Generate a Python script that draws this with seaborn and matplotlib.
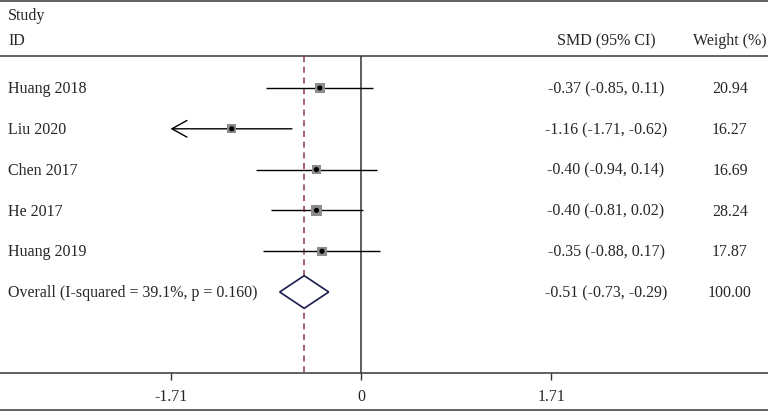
import numpy as np
import pandas as pd
import seaborn as sns
import matplotlib.pyplot as plt
from matplotlib.patches import Polygon
import matplotlib.transforms as mtransforms

studies = ['Huang 2018', 'Liu 2020', 'Chen 2017', 'He 2017', 'Huang 2019']
smd = [-0.37, -1.16, -0.40, -0.40, -0.35]
ci_low = [-0.85, -1.71, -0.94, -0.81, -0.88]
ci_high = [0.11, -0.62, 0.14, 0.02, 0.17]
weights = [20.94, 16.27, 16.69, 28.24, 17.87]

overall_label = 'Overall (I-squared = 39.1%, p = 0.160)'
overall = [-0.51, -0.73, -0.29]
overall_weight = 100.00

tick_values = [-1.71, 0, 1.71]
x_clip = 1.71


def main():
    sns.set_theme(style='white')
    plt.rcParams['font.family'] = ['Liberation Serif', 'DejaVu Serif']
    fs = 11.5

    fig = plt.figure(figsize=(7.68, 4.12), dpi=100)
    ax = fig.add_axes([0, 0, 1, 1])
    # pixel mapping: 0 at x=361, 111.4 px per unit ; rows 40.8 px apart from y=88
    px_unit = 111.4
    x0 = 361
    ax.set_xlim(-x0 / px_unit, (768 - x0) / px_unit)
    row0, dy = 88, 40.8
    ax.set_ylim((412 - row0) / dy, -row0 / dy)
    ax.axis('off')

    def ypix(p):
        return (p - row0) / dy

    rows = np.arange(len(studies))
    df = pd.DataFrame({'study': studies, 'smd': smd, 'lo': ci_low, 'hi': ci_high,
                       'weight': weights, 'row': rows})

    # frame lines
    line_col = '#555555'
    for p in [1, 56, 373, 410]:
        ax.axhline(ypix(p), color=line_col, lw=1.3)

    # null line and overall line
    ax.vlines(0, ypix(56), ypix(373), color='#333333', lw=1.1)
    ax.vlines(overall[0], ypix(56), ypix(373), color='#8b3a42', lw=1.1,
              linestyles=(0, (4, 3)))

    # confidence intervals
    for _, r in df.iterrows():
        lo = max(r['lo'], -x_clip)
        if r['lo'] <= -x_clip:
            ax.annotate('', xy=(-x_clip, r['row']), xytext=(r['hi'], r['row']),
                        arrowprops=dict(arrowstyle='->,head_length=0.9,head_width=0.5',
                                        lw=1.0, color='black', shrinkA=0, shrinkB=0))
        else:
            ax.hlines(r['row'], lo, min(r['hi'], x_clip), color='black', lw=1.0)

    # weight squares
    sizes = {w: 2.5 * w for w in weights}
    sns.scatterplot(data=df, x='smd', y='row', size='weight', sizes=sizes, marker='s',
                    color='#8c8c8c', edgecolor='none', legend=False, ax=ax, zorder=3)
    sns.scatterplot(data=df, x='smd', y='row', marker='o', s=14, color='black',
                    edgecolor='none', legend=False, ax=ax, zorder=4)

    # overall diamond
    yo = len(studies)
    h = 0.4
    diamond = Polygon([[overall[1], yo], [overall[0], yo - h], [overall[2], yo],
                       [overall[0], yo + h]], closed=True, facecolor='white',
                      edgecolor='#1c1c4e', lw=1.2, zorder=3)
    ax.add_patch(diamond)

    # text columns
    off = 0.03
    tr = mtransforms.blended_transform_factory(fig.transFigure, ax.transData)
    ax.text(8 / 768, ypix(16), 'Study', transform=tr, fontsize=fs, va='center')
    ax.text(8 / 768, ypix(41), 'ID', transform=tr, fontsize=fs, va='center')
    ax.text(606 / 768, ypix(41), 'SMD (95% CI)', transform=tr, fontsize=fs,
            va='center', ha='center')
    ax.text(730 / 768, ypix(41), 'Weight (%)', transform=tr, fontsize=fs,
            va='center', ha='center')

    for i, s in enumerate(studies):
        ax.text(8 / 768, i + off, s, transform=tr, fontsize=fs, va='center')
        ax.text(606 / 768, i + off, f'{smd[i]:.2f} ({ci_low[i]:.2f}, {ci_high[i]:.2f})',
                transform=tr, fontsize=fs, va='center', ha='center')
        ax.text(730 / 768, i + off, f'{weights[i]:.2f}', transform=tr, fontsize=fs,
                va='center', ha='center')
    ax.text(8 / 768, yo + off, overall_label, transform=tr, fontsize=fs, va='center')
    ax.text(606 / 768, yo + off, f'{overall[0]:.2f} ({overall[1]:.2f}, {overall[2]:.2f})',
            transform=tr, fontsize=fs, va='center', ha='center')
    ax.text(730 / 768, yo + off, f'{overall_weight:.2f}', transform=tr, fontsize=fs,
            va='center', ha='center')

    # x ticks
    for t in tick_values:
        ax.vlines(t, ypix(373), ypix(380), color='#333333', lw=1.0)
        ax.text(t, ypix(397), f'{t:g}', fontsize=fs, ha='center', va='center')

    fig.savefig('out.png', dpi=100)


if __name__ == '__main__':
    main()
